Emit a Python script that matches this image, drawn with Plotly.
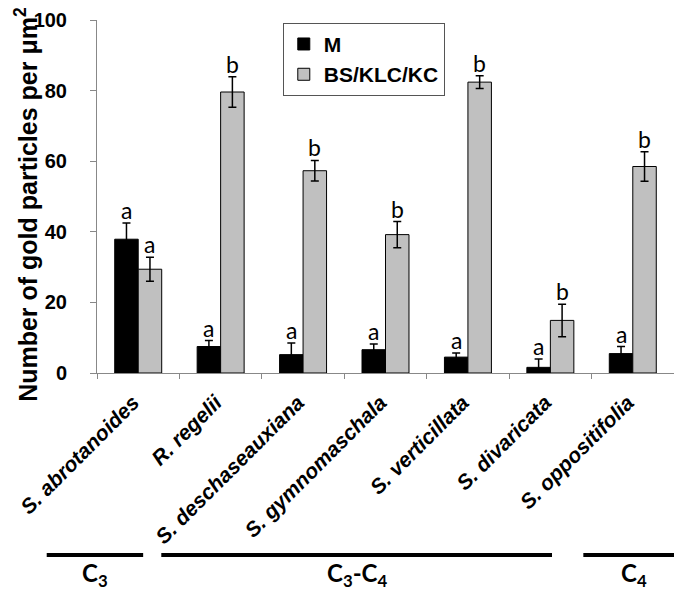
import plotly.graph_objects as go

species = ["S. abrotanoides", "R. regelii", "S. deschaseauxiana", "S. gymnomaschala",
           "S. verticillata", "S. divaricata", "S. oppositifolia"]
m_vals = [37.9, 7.5, 5.2, 6.6, 4.5, 1.6, 5.5]
m_err = [4.6, 1.7, 3.3, 1.6, 1.2, 2.4, 2.0]
bs_vals = [29.4, 79.6, 57.3, 39.2, 82.4, 14.9, 58.5]
bs_err = [3.4, 4.3, 2.9, 3.7, 1.8, 4.6, 4.2]
m_letters = ["a", "a", "a", "a", "a", "a", "a"]
bs_letters = ["a", "b", "b", "b", "b", "b", "b"]
y_ticks = [0, 20, 40, 60, 80, 100]

# photosynthetic type groups: label, start index, end index (category units)
groups = [("C<sub>3</sub>", -1.11, 0.06),
          ("C<sub>3</sub>-C<sub>4</sub>", 0.28, 5.02),
          ("C<sub>4</sub>", 5.40, 6.62)]

ARIAL = "Liberation Sans, Arial, sans-serif"
CALI = "Lato, Noto Sans, sans-serif"
n_cat = len(species)


def cat_to_paper(v):
    return (v + 0.5) / n_cat


fig = go.Figure()
fig.add_trace(go.Bar(
    x=species, y=m_vals, name="M",
    marker=dict(color="#000000", line=dict(color="#000000", width=1)),
    error_y=dict(type="data", array=m_err, color="#000000", thickness=1.5, width=4),
    legendgroup="m",
))
fig.add_trace(go.Bar(
    x=species, y=bs_vals, name="BS/KLC/KC",
    marker=dict(color="#c0c0c0", line=dict(color="#000000", width=1)),
    error_y=dict(type="data", array=bs_err, color="#000000", thickness=1.5, width=4),
    legendgroup="bs",
))

annotations = []
for i, sp in enumerate(species):
    annotations.append(dict(x=sp, y=m_vals[i] + m_err[i], xref="x", yref="y",
                            text=m_letters[i], showarrow=False, xshift=-11.7,
                            yanchor="bottom", yshift=-3,
                            font=dict(family=CALI, size=23, color="#000")))
    annotations.append(dict(x=sp, y=bs_vals[i] + bs_err[i], xref="x", yref="y",
                            text=bs_letters[i], showarrow=False, xshift=11.7,
                            yanchor="bottom", yshift=-3,
                            font=dict(family=CALI, size=23, color="#000")))

annotations.append(dict(x=-0.122, y=0.478, xref="paper", yref="paper",
                        text="<b>Number of gold particles per μm<sup>2</sup></b>",
                        textangle=-90, showarrow=False, xanchor="center", yanchor="middle",
                        font=dict(family=ARIAL, size=25, color="#000")))

shapes = []
for label, x0, x1 in groups:
    p0, p1 = cat_to_paper(x0), cat_to_paper(x1)
    shapes.append(dict(type="line", xref="paper", yref="paper", x0=p0, x1=p1,
                       y0=-0.5156, y1=-0.5156, line=dict(color="#000", width=4)))
    annotations.append(dict(x=(p0 + p1) / 2, y=-0.57, xref="paper", yref="paper",
                            text="<b>" + label + "</b>", showarrow=False,
                            xanchor="center", yanchor="middle",
                            font=dict(family=CALI, size=24, color="#000")))

fig.update_layout(
    width=674, height=591,
    margin=dict(l=97, r=0, t=20, b=218),
    paper_bgcolor="white", plot_bgcolor="white",
    barmode="group", bargap=0.43, bargroupgap=0,
    showlegend=True,
    legend=dict(x=0.322, y=0.992, xanchor="left", yanchor="top",
                bordercolor="#555555", borderwidth=1, bgcolor="white",
                font=dict(family=ARIAL, size=21, color="#000", weight="bold"),
                tracegroupgap=0, itemwidth=30,
                entrywidth=125, entrywidthmode="pixels"),
    xaxis=dict(type="category", range=[-0.5, 6.5], autorange=False,
               showline=True, linecolor="#888888", linewidth=1,
               ticks="outside", tickson="boundaries", ticklen=5, tickcolor="#888888",
               tickangle=-45, showgrid=False, ticklabelposition="outside",
               ticklabelstandoff=8, ticklabelshift=-5,
               tickfont=dict(family=ARIAL, size=21, color="#000", weight="bold", style="italic")),
    yaxis=dict(range=[0, 100], tickvals=y_ticks, showline=True, linecolor="#888888",
               linewidth=1, ticks="outside", ticklen=6, tickcolor="#888888",
               showgrid=False, zeroline=False, ticklabelposition="outside",
               ticklabelstandoff=19,
               tickfont=dict(family=ARIAL, size=20, color="#000", weight="bold")),
    annotations=annotations, shapes=shapes,
)

fig.write_html("out.html", config={"displayModeBar": False},
               post_script="document.body.style.margin='0';")
